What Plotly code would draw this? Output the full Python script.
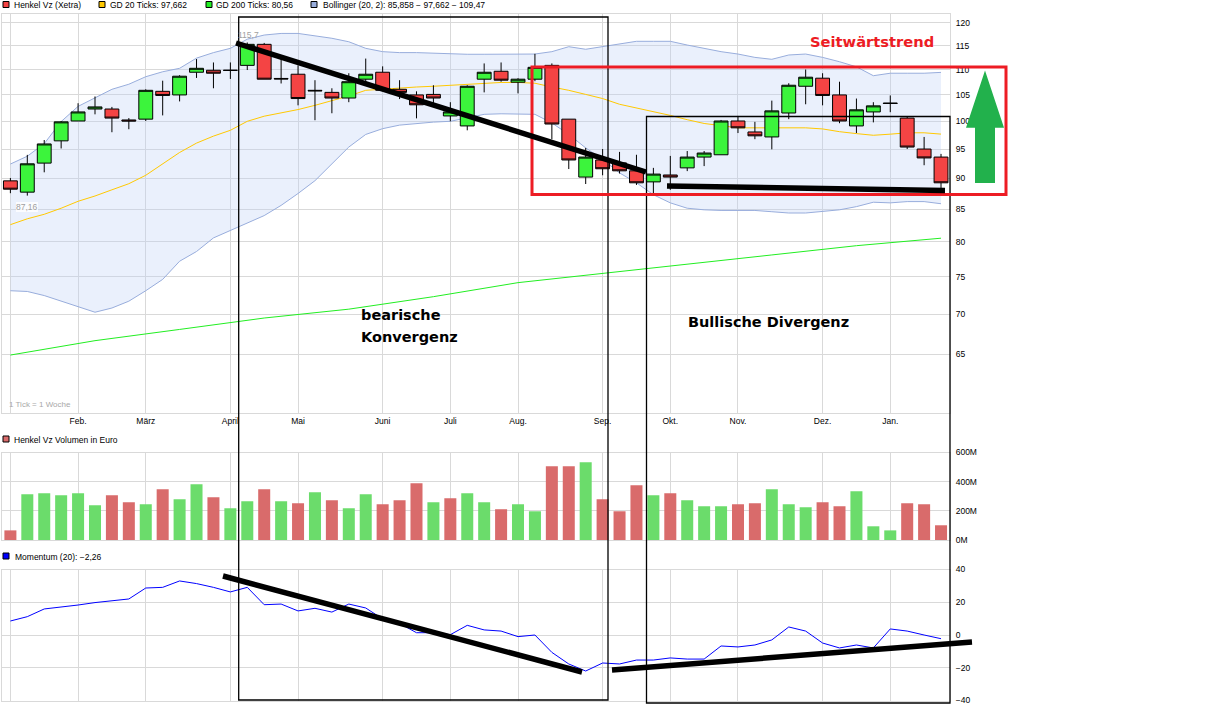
from plotly import graph_objects as go

WIDTH = 1217
HEIGHT = 711
FONT = "Liberation Sans"
BOLD_FONT = "DejaVu Sans"

# weekly candles, index 0 = Jan.
opens = [89.57, 87.72, 92.56, 96.45, 100.06, 102.3, 102.3, 100.25, 100.4, 105.7, 105.0, 109.5, 109.9, 109.9,
         110.9, 115.3, 108.25, 109.1, 105.9, 105.5, 104.4, 108.1, 109.5, 106.1, 105.0, 105.1, 101.0, 99.15,
         108.1, 109.7, 107.5, 108.1, 110.9, 100.4, 90.2, 93.1, 92.6, 91.25, 89.4, 90.55, 91.75, 93.6,
         94.0, 100.06, 98.05, 97.15, 101.55, 106.7, 108.3, 105.0, 99.15, 101.75, 103.45, 100.6, 95.0, 93.6]
highs = [90.05, 93.98, 96.6, 100.06, 103.4, 104.7, 102.7, 100.6, 106.1, 107.8, 108.9, 112.2, 111.5, 111.5,
         115.7, 115.6, 112.4, 110.9, 107.9, 106.3, 109.3, 112.3, 110.7, 107.9, 105.7, 106.9, 103.6, 106.9,
         111.3, 111.5, 108.3, 113.3, 111.3, 100.4, 95.2, 95.0, 94.5, 94.0, 91.75, 93.8, 94.65, 94.65,
         100.25, 101.0, 99.9, 103.9, 107.3, 110.05, 109.3, 107.6, 104.3, 103.6, 104.9, 100.8, 97.15, 94.15]
lows = [87.55, 87.16, 91.0, 95.1, 100.06, 101.3, 98.0, 98.55, 100.06, 101.1, 103.75, 108.35, 106.3, 108.15,
        109.95, 108.1, 107.25, 103.0, 100.2, 101.5, 103.6, 107.3, 105.9, 104.2, 100.55, 103.25, 100.0, 98.35,
        105.5, 107.6, 105.3, 107.7, 96.75, 91.55, 89.05, 90.5, 90.8, 88.9, 87.1, 88.1, 91.2, 92.05,
        94.0, 97.85, 96.75, 94.95, 100.4, 103.2, 103.0, 99.65, 97.85, 99.8, 101.7, 95.0, 92.2, 88.25]
closes = [88.2, 92.44, 95.9, 99.9, 101.75, 102.7, 100.6, 100.06, 105.9, 104.9, 108.7, 110.3, 109.3, 109.88,
          115.3, 108.1, 108.15, 104.3, 105.8, 104.4, 107.6, 109.1, 105.9, 105.5, 103.1, 104.4, 101.75, 106.7,
          109.5, 107.9, 108.1, 110.5, 99.5, 93.1, 93.6, 91.6, 91.25, 89.25, 90.7, 90.2, 93.6, 94.3,
          100.06, 98.8, 97.35, 101.95, 106.9, 108.5, 104.9, 100.06, 102.15, 102.9, 103.35, 95.35, 93.45, 89.25]

boll_upper = [92.4, 93.75, 95.95, 99.95, 102.8, 104.5, 106.1, 107.1, 108.6, 109.6, 110.3, 112.4, 113.55, 114.45,
              116.4, 117.3, 117.65, 117.65, 117.15, 116.6, 115.85, 114.45, 113.75, 113.55, 113.55, 113.4, 113.4, 113.2,
              113.2, 113.2, 113.25, 113.25, 113.75, 114.8, 114.25, 114.8, 115.5, 115.95, 115.95, 115.95, 115.15, 114.45,
              113.75, 113.25, 112.55, 112.15, 113.05, 113.25, 112.55, 111.65, 110.6, 108.8, 109.3, 109.3, 109.3, 109.47]
boll_lower = [73.1, 73.0, 72.45, 71.7, 70.9, 70.25, 70.8, 71.7, 73.1, 74.65, 77.2, 78.6, 80.6, 81.7,
              82.9, 84.0, 85.6, 87.5, 89.6, 92.4, 95.35, 97.6, 98.65, 99.3, 99.6, 99.85, 100.0, 100.6,
              101.3, 101.4, 101.4, 101.3, 99.7, 97.6, 95.2, 93.2, 90.9, 89.25, 87.3, 86.0, 85.15, 84.9,
              84.8, 84.8, 84.8, 84.6, 84.4, 84.4, 84.65, 84.9, 85.4, 86.1, 86.0, 86.2, 86.2, 85.86]
gd20 = [82.6, 83.5, 84.2, 85.15, 86.25, 87.1, 88.1, 89.1, 90.5, 92.4, 94.4, 96.05, 97.3, 98.35,
        100.0, 100.95, 101.55, 102.2, 103.0, 103.85, 104.8, 105.9, 106.15, 106.35, 106.55, 106.7, 106.85, 107.0,
        107.3, 107.45, 107.45, 107.3, 106.55, 105.9, 105.1, 104.3, 103.2, 102.5, 101.9, 101.1, 100.3, 99.6,
        99.2, 98.8, 98.8, 98.8, 98.8, 98.8, 98.6, 98.1, 97.75, 97.45, 97.65, 97.9, 97.9, 97.66]
gd200_idx = [0, 5, 10, 15, 20, 25, 30, 35, 40, 45, 50, 55]
gd200 = [64.9, 66.65, 68.05, 69.5, 70.65, 72.3, 74.2, 75.45, 76.7, 78.1, 79.45, 80.56]

volume = [66, 314, 321, 307, 321, 238, 307, 259, 245, 348, 279, 382, 293, 218,
          266, 348, 266, 252, 327, 272, 218, 314, 245, 272, 389, 259, 286, 321,
          259, 211, 245, 197, 506, 506, 534, 279, 197, 376, 307, 321, 272, 231,
          231, 245, 252, 348, 245, 224, 259, 231, 334, 94, 66, 252, 245, 101]
vol_up = [0, 1, 1, 1, 1, 1, 0, 0, 1, 0, 1, 1, 0, 1,
          1, 0, 1, 0, 1, 0, 1, 1, 0, 0, 0, 1, 0, 1,
          1, 0, 1, 1, 0, 0, 1, 0, 0, 0, 1, 0, 1, 1,
          1, 0, 0, 1, 1, 1, 0, 0, 1, 1, 1, 0, 0, 0]
momentum = [8.55, 11.2, 15.9, 16.9, 18.3, 19.8, 20.8, 22.0, 28.7, 29.1, 33.0, 31.4, 29.1, 26.3,
            29.1, 18.5, 18.9, 14.7, 16.3, 14.0, 18.9, 16.5, 9.8, 7.1, 1.4, 1.4, 0.2, 5.9,
            3.1, 2.4, -1.0, 0.0, -10.6, -17.7, -22.0, -17.1, -17.7, -15.3, -15.3, -14.0, -14.7, -14.7,
            -6.7, -7.3, -6.1, -3.0, 4.9, 2.4, -4.9, -7.9, -6.1, -7.9, 3.7, 2.4, 0.0, -2.26]

month_idx = [4, 8, 13, 17, 22, 26, 30, 35, 39, 43, 48, 52]
month_labels = ["Feb.", "März", "April", "Mai", "Juni", "Juli", "Aug.", "Sep.", "Okt.", "Nov.", "Dez.", "Jan."]
grid_idx = [0] + month_idx
price_ticks = [120, 115, 110, 105, 100, 95, 90, 85, 80, 75, 70, 65]
vol_ticks = [0, 200, 400, 600]
vol_labels = ["0M", "200M", "400M", "600M"]
mom_ticks = [-40, -20, 0, 20, 40]
mom_labels = ["\u221240", "\u221220", "0", "20", "40"]

weeks = list(range(len(closes)))
GRID = "#d9d9d9"


def xp(px):
    return px / WIDTH


def yp(py):
    return 1 - py / HEIGHT


def text(x, y, s, size=8.5, color="black", bold=False, bg=None, font=FONT):
    return dict(x=xp(x), y=yp(y), xref="paper", yref="paper", text=f"<b>{s}</b>" if bold else s,
                showarrow=False, xanchor="left", yanchor="middle", align="left", bgcolor=bg, borderpad=0,
                borderwidth=0, font=dict(family=font, size=size, color=color))


def box(x0, y0, x1, y1, color, width=1.3, fill=None):
    return dict(type="rect", xref="paper", yref="paper", x0=xp(x0), x1=xp(x1), y0=yp(y0), y1=yp(y1),
                line=dict(color=color, width=width), fillcolor=fill, layer="above")


def stroke(x0, y0, x1, y1, width=5.5):
    return dict(type="line", xref="paper", yref="paper", x0=xp(x0), x1=xp(x1), y0=yp(y0), y1=yp(y1),
                line=dict(color="black", width=width), layer="above")


fig = go.Figure()

# bollinger band + moving averages sit on the base axis, candles on an overlay above them
fig.add_trace(go.Scatter(x=weeks, y=boll_lower, mode="lines", line=dict(color="#98addc", width=1), yaxis="y", xaxis="x"))
fig.add_trace(go.Scatter(x=weeks, y=boll_upper, mode="lines", line=dict(color="#98addc", width=1),
                         fill="tonexty", fillcolor="rgba(190,210,245,0.33)", yaxis="y", xaxis="x"))
fig.add_trace(go.Scatter(x=weeks, y=gd20, mode="lines", line=dict(color="#ffc800", width=1), yaxis="y", xaxis="x"))
fig.add_trace(go.Scatter(x=gd200_idx, y=gd200, mode="lines", line=dict(color="#22ee22", width=1), yaxis="y", xaxis="x"))
fig.add_trace(go.Candlestick(
    x=weeks, open=opens, high=highs, low=lows, close=closes, yaxis="y2", xaxis="x",
    increasing=dict(fillcolor="#3cf43c", line=dict(color="black", width=1)),
    decreasing=dict(fillcolor="#f44444", line=dict(color="black", width=1)),
))
fig.add_trace(go.Bar(x=weeks, y=volume, yaxis="y3", xaxis="x2",
                     marker=dict(color=["#6bdc6b" if u else "#d96b6b" for u in vol_up], line_width=0)))
fig.add_trace(go.Scatter(x=weeks, y=momentum, mode="lines", line=dict(color="#0000ff", width=1), yaxis="y4", xaxis="x3"))

x_common = dict(domain=[xp(2), xp(950)], range=[-0.496, 55.53], showgrid=True, gridcolor=GRID, gridwidth=1,
                tickmode="array", zeroline=False, showline=True, linecolor=GRID, mirror=True,
                rangeslider=dict(visible=False), fixedrange=True)
y_common = dict(side="right", showgrid=True, gridcolor=GRID, gridwidth=1, zeroline=False, showline=True,
                linecolor=GRID, mirror=True, ticks="outside", ticklen=3, tickcolor="white",
                tickfont=dict(family=FONT, size=8.5, color="black"), fixedrange=True)

shapes = [
    box(238.7, 17, 608, 700, "black"),
    box(646.5, 116.5, 950, 703, "black"),
    box(532, 67, 1006, 194.5, "#ed1c24", width=3),
    stroke(236, 43, 646, 172),
    stroke(667, 186, 945, 190.5),
    stroke(223, 576, 582, 672),
    stroke(612, 670, 972, 642),
    dict(type="path", xref="paper", yref="paper", layer="above", fillcolor="#22b14c", line=dict(width=0),
         path="M {a} {b} L {c} {d} L {e} {d} L {e} {f} L {g} {f} L {g} {d} L {h} {d} Z".format(
             a=xp(985), b=yp(70.5), c=xp(1004), d=yp(127.7), e=xp(995), f=yp(183), g=xp(975), h=xp(966))),
]
# legend swatches
for x0, y0, col in [(3, 1.5, "#f44444"), (99, 1.5, "#ffc800"), (206, 1.5, "#22ee22"), (311, 1.5, "#98addc"),
                    (3, 436, "#d96b6b"), (3, 553, "#0000ff")]:
    shapes.append(box(x0, y0, x0 + 6, y0 + 6, "black", width=1, fill=col))

annotations = [
    text(14, 5, "Henkel Vz (Xetra)"),
    text(110, 5, "GD 20 Ticks: 97,662"),
    text(216, 5, "GD 200 Ticks: 80,56"),
    text(323, 5, "Bollinger (20, 2): 85,858 \u2212 97,662 \u2212 109,47"),
    text(14, 440, "Henkel Vz Volumen in Euro"),
    text(15, 557, "Momentum (20): \u22122,26"),
    text(9, 404, "1 Tick = 1 Woche", size=8, color="#a8a8a8"),
    text(238, 35, "115,7", color="#a0a0a0"),
    text(16, 207, "87,16", color="#a0a0a0", bg="rgba(255,255,255,0.8)"),
    text(810, 42, "Seitwärtstrend", size=14.7, color="#ed1c24", bold=True, font=BOLD_FONT),
    text(361, 315, "bearische", size=14.5, bold=True, font=BOLD_FONT),
    text(361, 337, "Konvergenz", size=14.5, bold=True, font=BOLD_FONT),
    text(688, 322, "Bullische Divergenz", size=14.5, bold=True, font=BOLD_FONT),
]

fig.update_layout(
    width=WIDTH,
    height=HEIGHT,
    margin=dict(l=0, r=0, t=0, b=0, autoexpand=False),
    paper_bgcolor="white",
    plot_bgcolor="white",
    showlegend=False,
    bargap=0.29,
    boxgap=0.18,
    boxgroupgap=0,
    xaxis=dict(anchor="y", tickvals=grid_idx, ticktext=[""] + month_labels, ticks="",
               tickfont=dict(family=FONT, size=8.5, color="black"), **x_common),
    xaxis2=dict(anchor="y3", tickvals=grid_idx, showticklabels=False, **x_common),
    xaxis3=dict(anchor="y4", tickvals=grid_idx, showticklabels=False, **x_common),
    yaxis=dict(type="log", anchor="x", domain=[yp(413), yp(13.5)], range=[1.7657, 2.0866],
               tickvals=price_ticks, ticktext=[str(t) for t in price_ticks], **y_common),
    yaxis2=dict(type="log", anchor="x", overlaying="y", range=[1.7657, 2.0866], side="right",
                showgrid=False, showticklabels=False, zeroline=False, fixedrange=True),
    yaxis3=dict(anchor="x2", domain=[yp(540), yp(452.5)], range=[0, 600],
                tickvals=vol_ticks, ticktext=vol_labels, **y_common),
    yaxis4=dict(anchor="x3", domain=[yp(700.5), yp(569.5)], range=[-40, 40],
                tickvals=mom_ticks, ticktext=mom_labels, **y_common),
    shapes=shapes,
    annotations=annotations,
)

fig.write_html("out.html", config=dict(displayModeBar=False),
               post_script="document.body.style.margin='0';document.body.style.overflow='hidden';")
